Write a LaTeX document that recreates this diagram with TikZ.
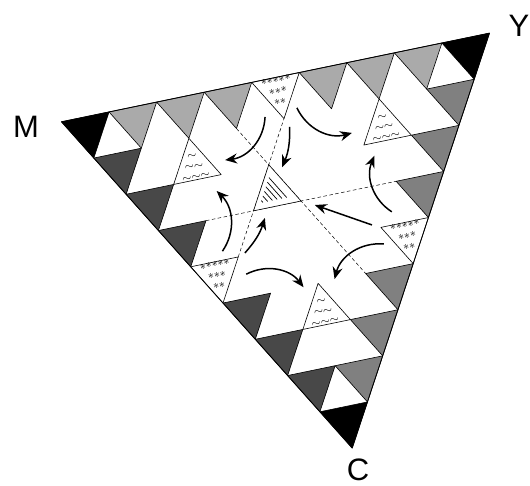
\documentclass[tikz,border=0pt]{standalone}
\usepackage{fontspec}
\setsansfont{Liberation Sans}
\usetikzlibrary{arrows.meta}
\definecolor{shadeT}{HTML}{AAAAAA}
\definecolor{shadeR}{HTML}{808080}
\definecolor{shadeL}{HTML}{484848}
\newcommand{\astrows}{${\ast}{\ast}{\ast}{\ast}{\ast}$\\${\ast}{\ast}{\ast}$\\${\ast}{\ast}$}
\newcommand{\waverows}{${\sim}$\\${\sim}{\sim}$\\${\sim}{\sim}{\sim}$}

\begin{document}
\begin{tikzpicture}[x=1pt, y=1pt,
  tri/.style={draw, line width=0.6pt, line join=round},
  shT/.style={tri, fill=shadeT},
  shR/.style={tri, fill=shadeR},
  shL/.style={tri, fill=shadeL},
  tipbox/.style={tri, fill=black},
  blank/.style={tri, fill=white},
  symtext/.style={inner sep=0pt, align=center, rotate=11.7},
  asttext/.style={symtext, font=\fontsize{13}{11}\selectfont},
  wavetext/.style={symtext, font=\fontsize{12.5}{10.5}\selectfont},
  guide/.style={line width=0.5pt, dash pattern=on 3.5pt off 2.5pt},
  flow/.style={-{Stealth[length=12pt,width=10pt]}, line width=1.5pt},
  cornerlab/.style={font=\sffamily\fontsize{31}{33}\selectfont, inner sep=0pt}]
\useasboundingbox (0,0) rectangle (530,486);
\node[cornerlab] (labM) at (26,359) {M};
\node[cornerlab] (labY) at (519,460) {Y};
\node[cornerlab] (labC) at (358,16) {C};

\begin{scope}[shift={(61.5,364.2)}, x={(47.55pt,9.85pt)}, y={(32.30pt,-36.25pt)}]
% dashed guides through the middle
\draw[guide] (3,1) -- (3,5);
\draw[guide] (1,3) -- (5,3);
\draw[guide] (1,4) -- (4,1);
% shaded triangles along the sides
\foreach \i in {1,2,3,5,6,7} {
  \draw[shT] (\i,0) -- ++(1,0) -- ++(-1,1) -- cycle;
  \draw[shL] (0,\i) -- ++(1,0) -- ++(-1,1) -- cycle;
  \draw[shR] ({8-\i},\i) -- ++(1,0) -- ++(-1,1) -- cycle;
}
\foreach \p in {(0,0),(8,0),(0,8)}
  \draw[tipbox] \p -- ++(1,0) -- ++(-1,1) -- cycle;
% asterisk and wave triangles
\foreach \p in {(4,0),(0,4),(4,4)}
  \draw[blank] \p -- ++(1,0) -- ++(-1,1) -- cycle;
\foreach \p in {(2,1),(6,1),(2,5)}
  \draw[blank] \p -- ++(-1,1) -- ++(1,0) -- cycle;
% hatched middle triangle
\draw[blank] (3,2) -- (2,3) -- (3,3) -- cycle;
\foreach \t in {0.2,0.3,0.4,0.5,0.6,0.7}
  \draw[line width=0.7pt] ({3-\t},{2.1+\t}) -- ({3-\t},2.85);
\node[asttext] (astT) at (4.333,0.32) {\astrows};
\node[asttext] (astL) at (0.333,4.32) {\astrows};
\node[asttext] (astR) at (4.333,4.32) {\astrows};
\node[wavetext] (waveL) at (1.64,1.69) {\waverows};
\node[wavetext] (waveR) at (5.64,1.69) {\waverows};
\node[wavetext] (waveB) at (1.64,5.69) {\waverows};
% arrow ends
\coordinate (tl0) at (3.69,0.87); \coordinate (tl1) at (2.30,1.68);
\coordinate (tr0) at (4.40,0.81); \coordinate (tr1) at (4.98,1.66);
\coordinate (tc0) at (3.97,1.22); \coordinate (tc1) at (3.20,2.12);
\coordinate (rt0) at (4.44,3.69); \coordinate (rt1) at (5.02,2.30);
\coordinate (rb0) at (3.79,4.40); \coordinate (rb1) at (2.36,4.98);
\coordinate (rc0) at (3.88,3.90); \coordinate (rc1) at (3.18,3.16);
\coordinate (lb0) at (0.87,4.44); \coordinate (lb1) at (1.68,5.02);
\coordinate (lt0) at (0.81,3.79); \coordinate (lt1) at (1.66,2.36);
\coordinate (lc0) at (1.18,3.94); \coordinate (lc1) at (2.09,3.22);
\draw[flow] (tl0) to[bend left=40] (tl1);
\draw[flow] (tr0) to[bend right=40] (tr1);
\draw[flow] (tc0) to[bend left=12] (tc1);
\draw[flow] (rt0) to[bend left=40] (rt1);
\draw[flow] (rb0) to[bend right=40] (rb1);
\draw[flow] (rc0) -- (rc1);
\draw[flow] (lb0) to[bend left=40] (lb1);
\draw[flow] (lt0) to[bend right=40] (lt1);
\draw[flow] (lc0) to[bend right=12] (lc1);
% outline
\draw[line width=0.8pt, line join=round] (0,0) -- (9,0) -- (0,9) -- cycle;
\end{scope}
\end{tikzpicture}
\end{document}
